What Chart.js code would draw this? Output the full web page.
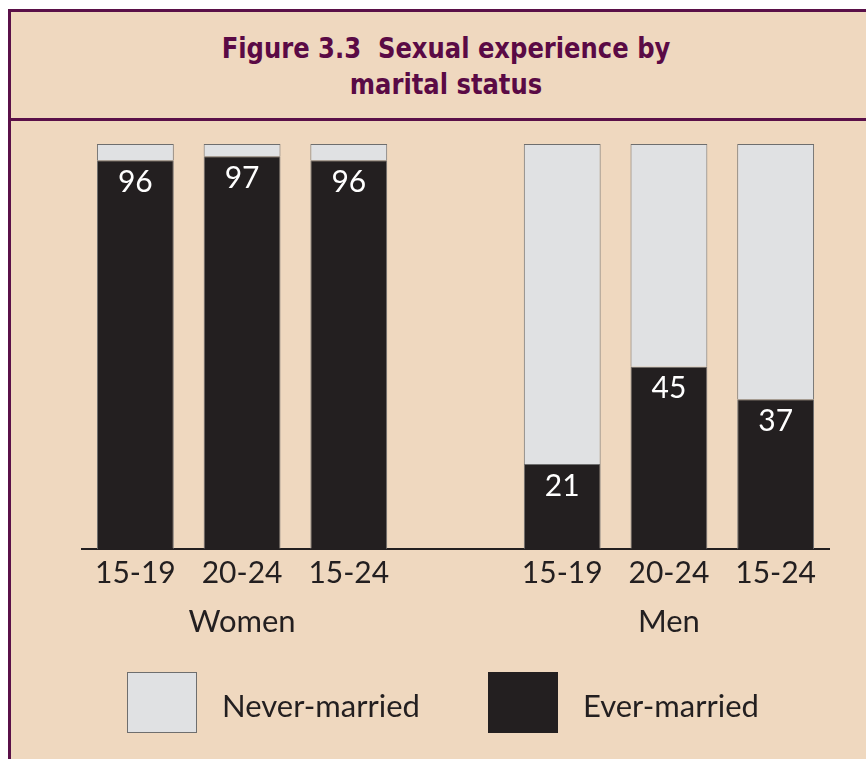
<!DOCTYPE html>
<html>
<head>
<meta charset="utf-8">
<script src="https://cdn.jsdelivr.net/npm/chart.js@4/dist/chart.umd.min.js"></script>
<style>
  html, body { margin:0; padding:0; background:#ffffff; }
  #page { position:absolute; left:0; top:0; width:866px; height:759px; overflow:hidden; }
  #frame { position:absolute; left:8px; top:9px; width:858px; height:760px;
           background:#EFD8BF; border-left:3px solid #5a1048; border-top:3px solid #5a1048; box-sizing:border-box; }
  #titlebox { position:absolute; left:0; top:0; width:100%; height:106px; border-bottom:3px solid #5a1048; box-sizing:content-box; }
  #title { position:absolute; left:0; width:858px; top:18px; text-align:center; padding-left:12px; box-sizing:border-box;
           font-family:"Liberation Sans Narrow","DejaVu Sans Condensed",sans-serif; font-weight:bold; font-size:29px;
           line-height:36px; color:#5a0a45; transform:scaleX(0.93); transform-origin:435px 0; }
  #chart { position:absolute; left:0; top:0; }
  .leg { position:absolute; font-family:Lato, "Open Sans", sans-serif; font-size:31px; color:#231f20; line-height:36px; }
  .box { position:absolute; box-sizing:border-box; }
</style>
</head>
<body>
<div id="page">
  <div id="frame">
    <div id="titlebox"><div id="title">Figure 3.3&nbsp; Sexual experience by<br>marital status</div></div>
  </div>
  <canvas id="chart" width="866" height="759"></canvas>
  <div class="box" style="left:127px;top:672px;width:70px;height:61px;background:#e0e1e3;border:1px solid #6e6e6e;"></div>
  <div class="leg" id="legNever" style="left:222px;top:687px;">Never-married</div>
  <div class="box" style="left:488px;top:672px;width:70px;height:61px;background:#231f20;"></div>
  <div class="leg" id="legEver" style="left:583px;top:687px;">Ever-married</div>
</div>
<script>
// ---- data ----
const categories = ["15-19", "20-24", "15-24", "", "15-19", "20-24", "15-24"];
const groups = ["Women", "Men"];
const groupCenterIndex = [1, 5];
const everMarried = [96, 97, 96, null, 21, 45, 37];
const neverMarried = [4, 3, 4, null, 79, 55, 63];
const seriesNames = ["Ever-married", "Never-married"];

const labelPlugin = {
  id: 'labels',
  afterDatasetsDraw(chart) {
    const ctx = chart.ctx;
    const meta = chart.getDatasetMeta(0);
    ctx.save();
    ctx.fillStyle = '#ffffff';
    ctx.font = '30px Lato, "Open Sans", sans-serif';
    ctx.textAlign = 'center';
    ctx.textBaseline = 'middle';
    meta.data.forEach((bar, i) => {
      const v = everMarried[i];
      if (v == null) return;
      ctx.fillText(String(v), bar.x, bar.y + 22);
    });
    // group labels
    const xs = chart.scales.x;
    ctx.fillStyle = '#231f20';
    ctx.font = '31px Lato, "Open Sans", sans-serif';
    groups.forEach((g, k) => {
      ctx.fillText(g, xs.getPixelForValue(groupCenterIndex[k]), chart.chartArea.bottom + 73);
    });
    ctx.restore();
  }
};

new Chart(document.getElementById('chart'), {
  type: 'bar',
  data: {
    labels: categories,
    datasets: [
      { label: seriesNames[0], data: everMarried, backgroundColor: '#231f20', borderColor: '#6e6e6e', borderWidth: 1 },
      { label: seriesNames[1], data: neverMarried, backgroundColor: '#e0e1e3', borderColor: '#6e6e6e', borderWidth: 1 }
    ]
  },
  options: {
    responsive: false,
    animation: false,
    events: [],
    layout: { padding: { left: 82, right: 37, top: 144, bottom: 170 } },
    plugins: { legend: { display: false }, title: { display: false }, tooltip: { enabled: false } },
    datasets: { bar: { barPercentage: 1, categoryPercentage: 0.72 } },
    scales: {
      x: {
        stacked: true,
        offset: true,
        grid: { display: false, drawTicks: false },
        border: { display: true, color: '#231f20', width: 2 },
        ticks: { color: '#231f20', font: { family: 'Lato, "Open Sans", sans-serif', size: 30 }, padding: 6, maxRotation: 0, autoSkip: false },
        afterFit: s => { s.height = 40; }
      },
      y: { stacked: true, display: false, min: 0, max: 100 }
    }
  },
  plugins: [labelPlugin]
});
</script>
</body>
</html>
